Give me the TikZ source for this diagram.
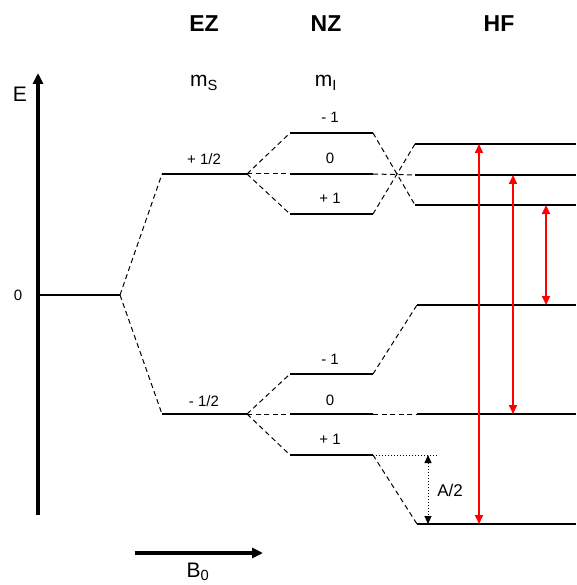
\documentclass[tikz,border=0pt]{standalone}
\usepackage{fontspec}
\setmainfont{Liberation Sans}
\usetikzlibrary{arrows.meta}
\begin{document}
\begin{tikzpicture}[x=1pt,y=-1pt,
  level/.style={line width=1.9pt},
  conn/.style={dashed,dash pattern=on 5pt off 3.5pt,line width=1pt},
  redarrow/.style={red,line width=1.8pt,{Triangle[length=9pt,width=8pt]}-{Triangle[length=9pt,width=8pt]}},
  head/.style={font=\fontsize{23}{25}\selectfont\bfseries},
  qn/.style={font=\fontsize{21}{23}\selectfont},
  lab/.style={font=\fontsize{15}{17}\selectfont},
  every node/.style={inner sep=0pt}]
\useasboundingbox (0,0) rectangle (576,585);
% axis
\coordinate (axb) at (38,515);
\coordinate (axt) at (38,73);
\draw[line width=3.2pt,-{Triangle[length=11pt,width=10pt]}] (axb) -- (axt);
\node[qn] (E) at (20,94) {E};
\node[lab] (zero) at (18,295) {0};
% B0
\coordinate (b0a) at (135,553);
\coordinate (b0b) at (263,553);
\draw[line width=3.2pt,-{Triangle[length=11pt,width=10pt]}] (b0a) -- (b0b);
\node[qn,anchor=base] (B0) at (198,577) {B\textsubscript{0}};
% headers
\node[head] (EZ) at (204,24) {EZ};
\node[head] (NZ) at (326,24) {NZ};
\node[head] (HF) at (499,24) {HF};
\node[qn,anchor=base] (ms) at (204,87) {m\textsubscript{S}};
\node[qn,anchor=base] (mi) at (326,87) {m\textsubscript{I}};
% ground
\coordinate (g0) at (38,295);
\coordinate (g1) at (120,295);
\draw[level,line width=1.5pt] (g0) -- (g1);
% EZ levels
\coordinate (eu0) at (162,174); \coordinate (eu1) at (247,174);
\coordinate (ed0) at (162,414); \coordinate (ed1) at (247,414);
\draw[level] (eu0) -- (eu1);
\draw[level] (ed0) -- (ed1);
\draw[conn] (g1) -- (eu0);
\draw[conn] (g1) -- (ed0);
\node[lab] (lup) at (204,159) {+ 1/2};
\node[lab] (ldn) at (204,401) {- 1/2};
% NZ upper
\foreach \n/\y in {a/133,b/174,c/214}{
  \coordinate (nu\n0) at (290,\y); \coordinate (nu\n1) at (373,\y);
  \draw[level] (nu\n0) -- (nu\n1);
  \draw[conn] (eu1) -- (nu\n0);
}
\node[lab] (nua) at (330,117) {- 1};
\node[lab] (nub) at (330,158) {0};
\node[lab] (nuc) at (330,198) {+ 1};
% NZ lower
\foreach \n/\y in {a/374,b/414,c/455}{
  \coordinate (nd\n0) at (290,\y); \coordinate (nd\n1) at (373,\y);
  \draw[level] (nd\n0) -- (nd\n1);
  \draw[conn] (ed1) -- (nd\n0);
}
\node[lab] (nda) at (330,359) {- 1};
\node[lab] (ndb) at (330,400) {0};
\node[lab] (ndc) at (330,439) {+ 1};
% HF levels
\coordinate (h1) at (415,144); \coordinate (h1e) at (576,144);
\coordinate (h2) at (415,175); \coordinate (h2e) at (576,175);
\coordinate (h3) at (415,205); \coordinate (h3e) at (576,205);
\coordinate (h4) at (417,305); \coordinate (h4e) at (576,305);
\coordinate (h5) at (417,414); \coordinate (h5e) at (576,414);
\coordinate (h6) at (417,524); \coordinate (h6e) at (576,524);
\foreach \i in {1,...,6}{\draw[level] (h\i) -- (h\i e);}
\draw[conn] (nua1) -- (h3);
\draw[conn] (nuc1) -- (h1);
\draw[conn] (nub1) -- (h2);
\draw[conn] (nda1) -- (h4);
\draw[conn] (ndb1) -- (h5);
\draw[conn] (ndc1) -- (h6);
% A/2
\coordinate (dotend) at (437,455);
\draw[dotted,line width=1pt] (ndc1) -- (dotend);
\coordinate (aa) at (428,455);
\coordinate (ab) at (428,524);
\draw[dotted,line width=1pt,{Triangle[length=8pt,width=7pt]}-{Triangle[length=8pt,width=7pt]}] (aa) -- (ab);
\node[font=\fontsize{17}{19}\selectfont] (A2) at (450,490) {A/2};
% red transitions
\coordinate (r1a) at (479,144); \coordinate (r1b) at (479,524);
\coordinate (r2a) at (513,175); \coordinate (r2b) at (513,414);
\coordinate (r3a) at (546,205); \coordinate (r3b) at (546,305);
\draw[redarrow] (r1b) -- (r1a);
\draw[redarrow] (r2b) -- (r2a);
\draw[redarrow] (r3b) -- (r3a);
\end{tikzpicture}
\end{document}
